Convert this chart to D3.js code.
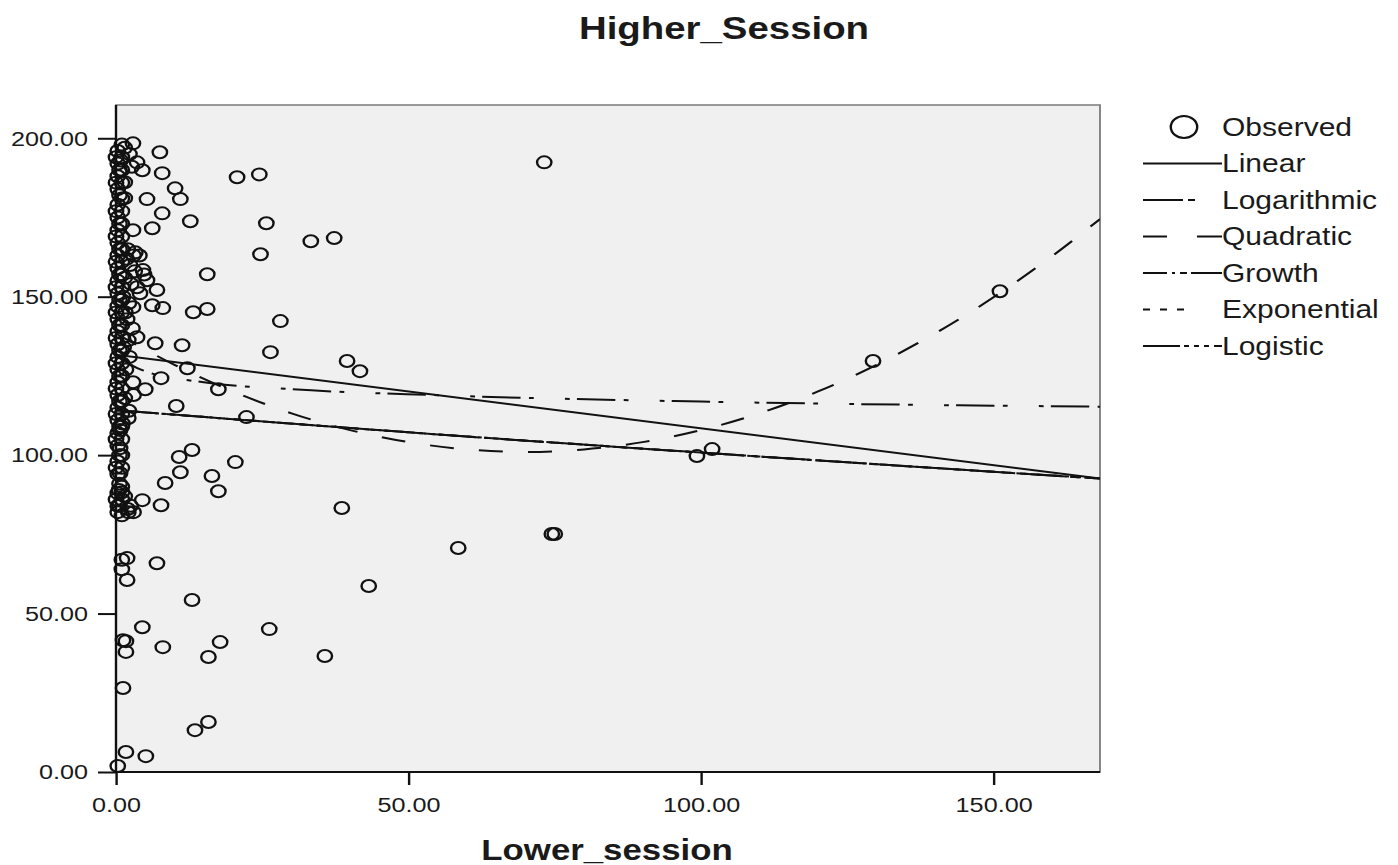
<!DOCTYPE html>
<html>
<head>
<meta charset="utf-8">
<script src="https://cdnjs.cloudflare.com/ajax/libs/d3/7.8.5/d3.min.js"></script>
<style>
  html, body { margin: 0; padding: 0; background: #fff; }
  svg { display: block; }
  text { font-family: "Liberation Sans", Arial, sans-serif; fill: #1a1a1a; }
</style>
</head>
<body>
<div id="chart"></div>
<script>
// chart values
const chartTitle = 'Higher_Session'
const xTitle = 'Lower_session'
const xTicks = [0, 50, 100, 150]
const yTicks = [0, 50, 100, 150, 200]
const xDomain = [0, 168.2]
const yDomain = [0, 210.5]

const observed = [
  [2.9, 198.4], [7.5, 195.6], [3.6, 192.4], [4.5, 189.9], [7.9, 189.0], [20.7, 187.7],
  [24.5, 188.6], [10.1, 184.2], [11.0, 180.8], [5.3, 180.8], [1.5, 186.1], [7.9, 176.3],
  [6.2, 171.6], [12.7, 173.8], [25.7, 173.2], [24.7, 163.4], [33.3, 167.5], [37.3, 168.5],
  [73.2, 192.4], [2.9, 171.0], [15.6, 157.1], [3.3, 164.0], [4.6, 158.4], [5.3, 155.2],
  [7.0, 152.1], [4.1, 151.1], [8.0, 146.4], [6.2, 147.3], [2.9, 146.7], [13.2, 145.1],
  [15.6, 146.1], [28.1, 142.3], [1.9, 142.9], [1.5, 181.1], [3.6, 137.2], [6.7, 135.3],
  [11.3, 134.7], [2.1, 136.3], [26.4, 132.5], [39.5, 129.7], [41.7, 126.5], [12.2, 127.4],
  [17.5, 120.8], [7.7, 124.3], [5.0, 120.8], [2.9, 123.0], [10.3, 115.5], [22.3, 112.0],
  [2.1, 111.7], [0.7, 107.9], [0.7, 102.2], [13.0, 101.6], [10.8, 99.4], [20.4, 97.8],
  [11.0, 94.6], [16.4, 93.4], [8.4, 91.2], [17.5, 88.6], [4.5, 85.8], [7.7, 84.2],
  [0.7, 94.3], [1.0, 88.3], [2.1, 82.0], [38.6, 83.3], [58.5, 70.7], [74.5, 75.1],
  [75.0, 75.1], [7.0, 65.9], [1.9, 67.5], [1.9, 60.6], [43.2, 58.7], [13.0, 54.3],
  [4.5, 45.7], [26.2, 45.1], [1.2, 41.6], [1.7, 41.3], [17.8, 41.0], [8.0, 39.4],
  [1.7, 37.9], [35.7, 36.6], [15.8, 36.3], [1.2, 26.5], [15.8, 15.8], [13.5, 13.2],
  [1.7, 6.3], [5.1, 5.0], [0.3, 1.9], [101.9, 101.9], [99.3, 99.7], [129.4, 129.7],
  [151.1, 151.7],
  [0.3, 196], [0.3, 192], [0.3, 188], [0.3, 184], [0.3, 179], [0.3, 175], [0.3, 171],
  [0.3, 167], [0.3, 163], [0.3, 159], [0.3, 155], [0.3, 151], [0.3, 147], [0.3, 143],
  [0.3, 139], [0.3, 135], [0.3, 131], [0.3, 127], [0.3, 123], [0.3, 119], [0.3, 115],
  [0.3, 111], [0.3, 107], [0.3, 103], [0.3, 98], [0.3, 94], [0.3, 88], [0.3, 84], [0.3, 82],
  [1.0, 198], [1.0, 194], [1.0, 190], [1.0, 186], [1.0, 181], [1.0, 177], [1.0, 173],
  [1.0, 169], [1.0, 165], [1.0, 161], [1.0, 157], [1.0, 153], [1.0, 149], [1.0, 145],
  [1.0, 141], [1.0, 137], [1.0, 133], [1.0, 129], [1.0, 125], [1.0, 121], [1.0, 117],
  [1.0, 113], [1.0, 109], [1.0, 105], [1.0, 100], [1.0, 96], [1.0, 90], [1.0, 86],
  [1.0, 81], [1.0, 67], [1.0, 64],
  [0.0, 194], [0.0, 186], [0.0, 177], [0.0, 169], [0.0, 161], [0.0, 153], [0.0, 145],
  [0.0, 137], [0.0, 129], [0.0, 121], [0.0, 113], [0.0, 105], [0.0, 96], [0.0, 86],
  [0.6, 190], [0.6, 182], [0.6, 173], [0.6, 165], [0.6, 157], [0.6, 149], [0.6, 141],
  [0.6, 133], [0.6, 125], [0.6, 117], [0.6, 109], [0.6, 100], [0.6, 91], [0.6, 84],
  [1.8, 162], [2.4, 160], [3.2, 158], [4.0, 163], [1.5, 156], [2.6, 154], [3.6, 153],
  [4.8, 157], [2.0, 165], [3.0, 163], [1.2, 150], [2.2, 148], [1.6, 145], [2.8, 140],
  [1.3, 134], [2.3, 131], [1.7, 127], [3.0, 119], [1.5, 118], [2.2, 114], [1.1, 110],
  [0.5, 89], [1.5, 87], [2.5, 84], [3.0, 82], [2.0, 83], [1.5, 197], [2.3, 195],
  [0.8, 193], [2.7, 191]
]

const linearFit = [[0, 131.7], [168.2, 92.6]]
const logarithmicFit = [[0.5, 133.8], [2, 129.4], [5, 126.5], [15, 123.0], [30, 120.8],
  [55, 118.9], [100, 116.9], [168.2, 115.3]]
const quadraticFit = [[0, 138.4], [10, 128.5], [20, 120.1], [30, 113.2], [40, 107.9],
  [50, 104.1], [60, 101.8], [70, 101.0], [80, 101.8], [90, 104.1], [100, 107.9],
  [110, 113.2], [120, 120.1], [130, 128.5], [140, 138.4], [150, 149.8], [160, 162.8],
  [168.2, 174.5]]
const growthFit = [[0, 114.2], [50, 107.2], [100, 100.8], [168.2, 92.6]]
const exponentialFit = [[0, 114.2], [50, 107.2], [100, 100.8], [168.2, 92.6]]
const logisticFit = [[0, 114.2], [50, 107.2], [100, 100.8], [168.2, 92.6]]

const legendLabels = ['Observed', 'Linear', 'Logarithmic', 'Quadratic', 'Growth', 'Exponential', 'Logistic']

// the original picture is stretched sideways, so draw in a narrower box and stretch it
const SX = 1.2
const W = 1398
const H = 865
const px = v => v / SX

const plot = { left: px(116), right: px(1100), top: 105, bottom: 772 }

const svg = d3.select('#chart')
  .append('svg')
  .attr('width', W)
  .attr('height', H)
  .attr('viewBox', '0 0 ' + px(W) + ' ' + H)
  .attr('preserveAspectRatio', 'none')

const x = d3.scaleLinear().domain(xDomain).range([plot.left, plot.right])
const y = d3.scaleLinear().domain(yDomain).range([plot.bottom, plot.top])
const fmt = d3.format('.2f')

// title
svg.append('text')
  .attr('x', px(724))
  .attr('y', 39)
  .attr('text-anchor', 'middle')
  .style('font-size', '32px')
  .style('font-weight', 'bold')
  .text(chartTitle)

// plot background
svg.append('rect')
  .attr('x', plot.left)
  .attr('y', plot.top)
  .attr('width', plot.right - plot.left)
  .attr('height', plot.bottom - plot.top)
  .attr('fill', '#f0f0f0')
  .attr('stroke', '#7a7a7a')
  .attr('stroke-width', 1.5)

svg.append('clipPath').attr('id', 'clip')
  .append('rect')
  .attr('x', plot.left)
  .attr('y', plot.top)
  .attr('width', plot.right - plot.left)
  .attr('height', plot.bottom - plot.top)

// axes
const yAxis = svg.append('g')
  .attr('transform', 'translate(' + plot.left + ',0)')
  .call(d3.axisLeft(y).tickValues(yTicks).tickFormat(fmt).tickSize(px(18)).tickPadding(px(10)))
const xAxis = svg.append('g')
  .attr('transform', 'translate(0,' + plot.bottom + ')')
  .call(d3.axisBottom(x).tickValues(xTicks).tickFormat(fmt).tickSize(13).tickPadding(12))

;[xAxis, yAxis].forEach(function (g) {
  g.select('.domain').remove()
  g.selectAll('.tick line').attr('stroke', '#111').attr('stroke-width', 2)
  g.selectAll('.tick text')
    .style('font-size', '21px')
    .style('font-family', '"Liberation Sans", Arial, sans-serif')
    .attr('fill', '#1a1a1a')
})

svg.append('line')
  .attr('x1', plot.left).attr('x2', plot.left)
  .attr('y1', plot.top).attr('y2', plot.bottom)
  .attr('stroke', '#111').attr('stroke-width', 2)
svg.append('line')
  .attr('x1', plot.left).attr('x2', plot.right)
  .attr('y1', plot.bottom).attr('y2', plot.bottom)
  .attr('stroke', '#111').attr('stroke-width', 2)

// x title
svg.append('text')
  .attr('x', px(607))
  .attr('y', 860)
  .attr('text-anchor', 'middle')
  .style('font-size', '29px')
  .style('font-weight', 'bold')
  .text(xTitle)

// fitted curves
const line = d3.line()
  .x(function (d) { return x(d[0]) })
  .y(function (d) { return y(d[1]) })
  .curve(d3.curveMonotoneX)

const fits = [
  { data: growthFit, dash: '34,4,3,4,5,4' },
  { data: exponentialFit, dash: '7,7' },
  { data: logisticFit, dash: '30,3,3,3,3,3' },
  { data: linearFit, dash: null },
  { data: logarithmicFit, dash: '32,7,4,26,4,6' },
  { data: quadraticFit, dash: '20,21' }
]

const curves = svg.append('g').attr('clip-path', 'url(#clip)')
curves.selectAll('path')
  .data(fits)
  .enter()
  .append('path')
  .attr('d', function (d) { return line(d.data) })
  .attr('fill', 'none')
  .attr('stroke', '#111')
  .attr('stroke-width', 2)
  .attr('stroke-dasharray', function (d) { return d.dash })

// observed points
svg.append('g')
  .selectAll('circle')
  .data(observed)
  .enter()
  .append('circle')
  .attr('cx', function (d) { return x(d[0]) })
  .attr('cy', function (d) { return y(d[1]) })
  .attr('r', 6)
  .attr('fill', 'none')
  .attr('stroke', '#111')
  .attr('stroke-width', 2)

// legend
const legendX1 = px(1222)
const rowY = function (i) { return 127 + i * 36.5 }
const legend = svg.append('g')

legend.selectAll('text')
  .data(legendLabels)
  .enter()
  .append('text')
  .attr('x', legendX1)
  .attr('y', function (d, i) { return rowY(i) })
  .attr('dy', '0.36em')
  .style('font-size', '25px')
  .text(function (d) { return d })

legend.append('circle')
  .attr('cx', px(1184))
  .attr('cy', rowY(0))
  .attr('r', 11)
  .attr('fill', 'none')
  .attr('stroke', '#111')
  .attr('stroke-width', 2)

// legend line samples: [start, end] pieces in screen pixels
const samples = [
  [[1143, 1222]],
  [[1143, 1183], [1188, 1195]],
  [[1143, 1167], [1197, 1222]],
  [[1143, 1167], [1172, 1175], [1180, 1187], [1191, 1222]],
  [[1143, 1150], [1160, 1167], [1177, 1184]],
  [[1143, 1180], [1184, 1189], [1194, 1199], [1204, 1209], [1214, 1222]]
]
samples.forEach(function (pieces, i) {
  legend.selectAll(null)
    .data(pieces)
    .enter()
    .append('line')
    .attr('x1', function (d) { return px(d[0]) })
    .attr('x2', function (d) { return px(d[1]) })
    .attr('y1', rowY(i + 1))
    .attr('y2', rowY(i + 1))
    .attr('stroke', '#111')
    .attr('stroke-width', 2)
})
</script>
</body>
</html>
